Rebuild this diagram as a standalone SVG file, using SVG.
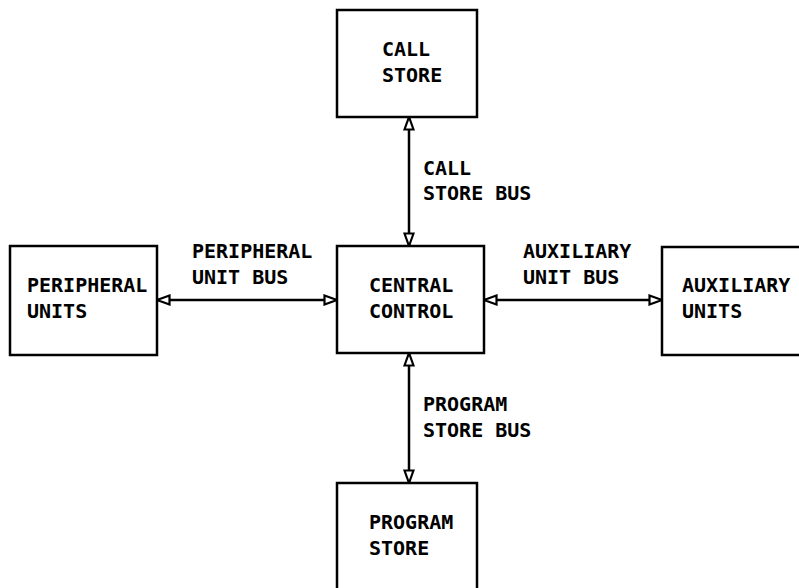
<svg xmlns="http://www.w3.org/2000/svg" width="799" height="588" viewBox="0 0 799 588">
<style>
.box{fill:#fff;stroke:#000;stroke-width:2.5}
text{font-family:"DejaVu Sans Mono","Liberation Mono",monospace;font-weight:bold;font-size:20px;fill:#000}
.bus{stroke:#000;stroke-width:2.5;fill:none;marker-start:url(#ah);marker-end:url(#ah)}
</style>
<defs>
<marker id="ah" viewBox="0 0 15 12" refX="14" refY="6" markerWidth="15" markerHeight="12" markerUnits="userSpaceOnUse" orient="auto-start-reverse">
<path d="M1.5,1.5 L14,6 L1.5,10.5 Z" fill="#fff" stroke="#000" stroke-width="2.2"/>
</marker>
</defs>
<rect width="799" height="588" fill="#fff"/>
<g id="connectors">
<line class="bus" x1="409" y1="117" x2="409" y2="246"/>
<line class="bus" x1="409" y1="353" x2="409" y2="483"/>
<line class="bus" x1="157" y1="300" x2="337" y2="300"/>
<line class="bus" x1="484" y1="300" x2="662" y2="300"/>
<text x="423" y="175">CALL</text>
<text x="423" y="200">STORE BUS</text>
<text x="192" y="258">PERIPHERAL</text>
<text x="192" y="284">UNIT BUS</text>
<text x="523" y="258">AUXILIARY</text>
<text x="523" y="284">UNIT BUS</text>
<text x="423" y="411">PROGRAM</text>
<text x="423" y="437">STORE BUS</text>
</g>
<g id="call-store">
<rect class="box" x="337" y="10" width="140" height="107"/>
<text x="382" y="56">CALL</text>
<text x="382" y="82">STORE</text>
</g>
<g id="central-control">
<rect class="box" x="337" y="246" width="147" height="107"/>
<text x="369" y="292">CENTRAL</text>
<text x="369" y="318">CONTROL</text>
</g>
<g id="peripheral-units">
<rect class="box" x="10" y="246" width="147" height="109"/>
<text x="27" y="292">PERIPHERAL</text>
<text x="27" y="318">UNITS</text>
</g>
<g id="auxiliary-units">
<rect class="box" x="662" y="247" width="150" height="108"/>
<text x="682" y="292">AUXILIARY</text>
<text x="682" y="318">UNITS</text>
</g>
<g id="program-store">
<rect class="box" x="337" y="483" width="140" height="120"/>
<text x="369" y="529">PROGRAM</text>
<text x="369" y="555">STORE</text>
</g>
</svg>
